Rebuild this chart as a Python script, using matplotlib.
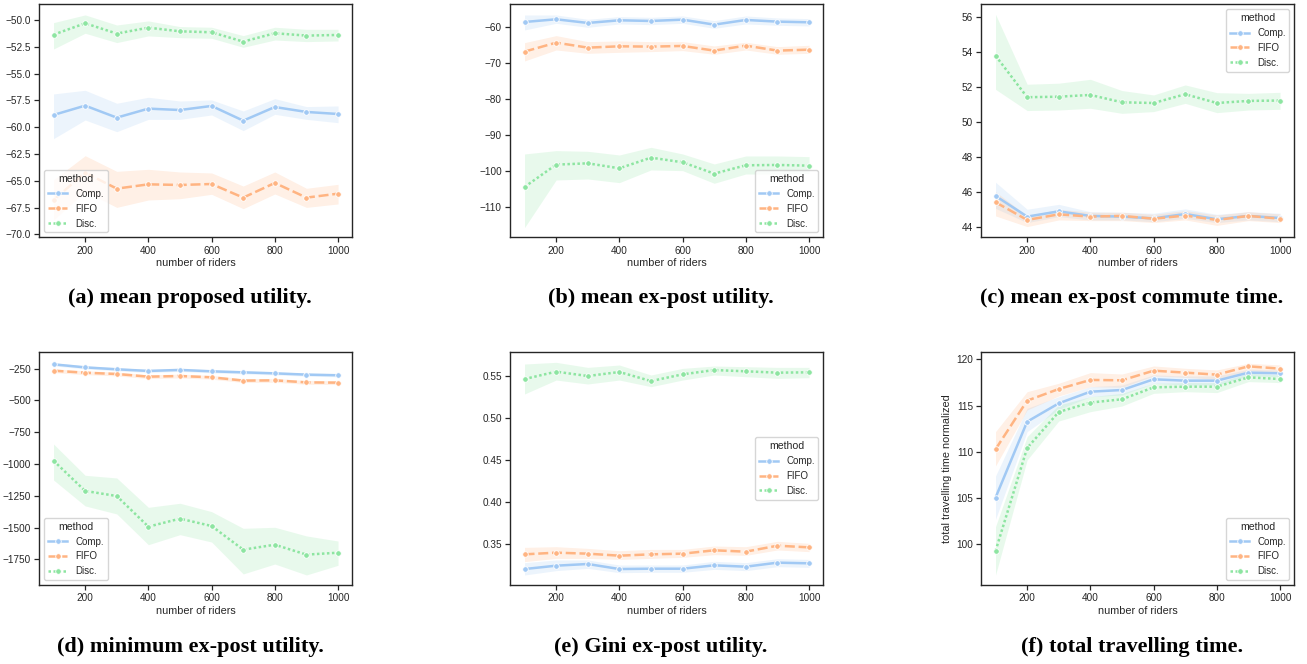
import matplotlib
matplotlib.use('Agg')
import matplotlib.pyplot as plt
from matplotlib.lines import Line2D

# ---------------- data ----------------
riders = [100, 200, 300, 400, 500, 600, 700, 800, 900, 1000]
methods = ['Comp.', 'FIFO', 'Disc.']

# (a) mean proposed utility
a_comp = [-58.86, -57.99, -59.11, -58.27, -58.40, -58.02, -59.39, -58.12, -58.58, -58.77]
a_comp_hi = [-56.90, -56.56, -57.77, -57.21, -57.56, -57.46, -58.49, -57.34, -58.08, -58.02]
a_comp_lo = [-61.07, -59.33, -60.42, -59.27, -59.27, -58.86, -60.32, -58.80, -59.27, -59.58]
a_fifo = [-66.79, -64.24, -65.73, -65.33, -65.39, -65.30, -66.57, -65.20, -66.57, -66.20]
a_fifo_hi = [-64.90, -62.66, -64.12, -63.93, -64.18, -64.27, -65.49, -64.18, -65.70, -65.33]
a_fifo_lo = [-68.66, -66.01, -67.48, -66.79, -66.67, -66.26, -67.60, -66.23, -67.48, -67.16]
a_disc = [-51.37, -50.31, -51.27, -50.72, -51.06, -51.15, -52.02, -51.24, -51.46, -51.40]
a_disc_hi = [-50.25, -49.53, -50.47, -50.09, -50.62, -50.68, -51.46, -50.68, -50.87, -50.87]
a_disc_lo = [-52.71, -51.24, -52.11, -51.49, -51.65, -51.71, -52.55, -51.87, -52.02, -51.96]

# (b) mean ex-post utility
b_comp = [-58.52, -57.77, -58.79, -58.05, -58.24, -57.87, -59.26, -57.96, -58.42, -58.61]
b_comp_hi = [-56.57, -56.57, -57.77, -57.03, -57.22, -56.85, -58.14, -56.85, -57.40, -57.59]
b_comp_lo = [-60.74, -58.89, -60.00, -59.07, -59.26, -58.89, -60.28, -59.07, -59.44, -59.63]
b_fifo = [-66.77, -64.27, -65.66, -65.29, -65.38, -65.19, -66.49, -65.10, -66.49, -66.22]
b_fifo_hi = [-64.27, -62.32, -63.99, -63.80, -63.99, -63.99, -65.19, -64.17, -65.38, -65.01]
b_fifo_lo = [-69.37, -66.31, -67.24, -66.96, -66.77, -66.49, -67.51, -66.31, -67.51, -67.24]
b_disc = [-104.43, -98.22, -97.85, -99.24, -96.27, -97.57, -100.72, -98.40, -98.31, -98.50]
b_disc_hi = [-95.25, -94.32, -94.51, -95.53, -93.40, -95.25, -98.03, -95.81, -95.81, -95.99]
b_disc_lo = [-115.75, -102.49, -102.21, -103.23, -99.70, -99.89, -103.41, -100.82, -100.82, -100.63]

# (c) mean ex-post commute time
c_comp = [45.79, 44.61, 44.91, 44.65, 44.61, 44.51, 44.76, 44.46, 44.65, 44.53]
c_comp_hi = [46.57, 45.03, 45.31, 44.89, 44.86, 44.80, 45.05, 44.74, 44.89, 44.80]
c_comp_lo = [45.08, 44.27, 44.61, 44.42, 44.42, 44.32, 44.51, 44.27, 44.42, 44.32]
c_fifo = [45.43, 44.42, 44.74, 44.61, 44.65, 44.49, 44.67, 44.42, 44.65, 44.49]
c_fifo_hi = [46.03, 44.65, 45.03, 44.86, 44.86, 44.74, 44.95, 44.70, 44.89, 44.76]
c_fifo_lo = [44.65, 44.04, 44.42, 44.38, 44.38, 44.27, 44.42, 44.11, 44.38, 44.27]
c_disc = [53.79, 51.42, 51.45, 51.55, 51.13, 51.09, 51.59, 51.09, 51.21, 51.23]
c_disc_hi = [56.15, 52.16, 52.22, 52.44, 51.80, 51.55, 52.12, 51.68, 51.64, 51.70]
c_disc_lo = [51.87, 50.66, 50.69, 50.79, 50.50, 50.60, 51.07, 50.54, 50.69, 50.73]

# (d) minimum ex-post utility
d_comp = [-216, -240, -255, -268, -260, -271, -279, -287, -297, -302]
d_comp_hi = [-204, -228, -243, -256, -248, -259, -267, -275, -285, -290]
d_comp_lo = [-228, -252, -267, -280, -272, -283, -291, -299, -309, -314]
d_fifo = [-266, -282, -292, -313, -308, -318, -344, -342, -358, -360]
d_fifo_hi = [-251, -267, -277, -298, -293, -303, -329, -327, -343, -345]
d_fifo_lo = [-281, -297, -307, -328, -323, -333, -359, -357, -373, -375]
d_disc = [-974, -1212, -1252, -1493, -1430, -1488, -1674, -1635, -1713, -1698]
d_disc_hi = [-843, -1089, -1110, -1341, -1309, -1375, -1506, -1498, -1566, -1606]
d_disc_lo = [-1126, -1330, -1393, -1635, -1556, -1614, -1865, -1787, -1873, -1797]

# (e) Gini ex-post utility
e_comp = [0.3202, 0.3242, 0.3262, 0.3202, 0.3206, 0.3206, 0.3246, 0.3230, 0.3278, 0.3270]
e_comp_hi = [0.3278, 0.3310, 0.3310, 0.3250, 0.3250, 0.3250, 0.3294, 0.3278, 0.3325, 0.3317]
e_comp_lo = [0.3131, 0.3183, 0.3210, 0.3159, 0.3163, 0.3163, 0.3198, 0.3183, 0.3230, 0.3222]
e_fifo = [0.3377, 0.3397, 0.3385, 0.3361, 0.3377, 0.3385, 0.3425, 0.3409, 0.3480, 0.3460]
e_fifo_hi = [0.3460, 0.3468, 0.3448, 0.3420, 0.3436, 0.3436, 0.3476, 0.3468, 0.3532, 0.3508]
e_fifo_lo = [0.3290, 0.3329, 0.3329, 0.3317, 0.3329, 0.3341, 0.3373, 0.3365, 0.3429, 0.3409]
e_disc = [0.5464, 0.5552, 0.5500, 0.5548, 0.5440, 0.5520, 0.5571, 0.5556, 0.5540, 0.5544]
e_disc_hi = [0.5643, 0.5663, 0.5603, 0.5631, 0.5512, 0.5591, 0.5619, 0.5611, 0.5603, 0.5603]
e_disc_lo = [0.5286, 0.5452, 0.5405, 0.5452, 0.5373, 0.5452, 0.5512, 0.5492, 0.5472, 0.5480]

# (f) total travelling time normalized
f_comp = [105.04, 113.26, 115.24, 116.50, 116.68, 117.84, 117.69, 117.69, 118.56, 118.49]
f_comp_hi = [107.39, 114.70, 115.96, 117.04, 117.21, 118.31, 118.20, 118.20, 118.92, 118.85]
f_comp_lo = [102.70, 112.18, 114.59, 115.96, 116.14, 117.41, 117.22, 117.22, 118.20, 118.13]
f_fifo = [110.27, 115.53, 116.79, 117.77, 117.73, 118.77, 118.56, 118.34, 119.24, 118.99]
f_fifo_hi = [112.18, 116.50, 117.41, 118.56, 118.41, 119.28, 119.03, 118.85, 119.57, 119.39]
f_fifo_lo = [108.47, 114.52, 116.04, 117.04, 116.97, 118.20, 118.05, 117.84, 118.77, 118.56]
f_disc = [99.28, 110.41, 114.31, 115.32, 115.68, 116.97, 117.04, 117.04, 118.05, 117.87]
f_disc_hi = [101.91, 111.64, 115.06, 115.96, 116.32, 117.41, 117.48, 117.48, 118.49, 118.31]
f_disc_lo = [96.68, 109.12, 113.33, 114.34, 114.95, 116.32, 116.50, 116.40, 117.59, 117.48]

captions = ['(a) mean proposed utility.', '(b) mean ex-post utility.',
            '(c) mean ex-post commute time.', '(d) minimum ex-post utility.',
            '(e) Gini ex-post utility.', '(f) total travelling time.']

# ---------------- style ----------------
colors = ['#a1c9f4', '#ffb482', '#8de5a1']
dashes = [None, (4, 1.5), (1, 1)]
plt.rcParams['font.family'] = ['Liberation Sans', 'DejaVu Sans']
TXT = '#262626'
LW = 1.8
MS = 4.0

W, H = 1307, 664
fig = plt.figure(figsize=(W / 100, H / 100), dpi=100)

col_left = [39.3, 510.3, 981.3]
ax_w = 313.0
row_top = [4.3, 352.0]
ax_h = 233.0

panels = [
    dict(series=[(a_comp, a_comp_lo, a_comp_hi), (a_fifo, a_fifo_lo, a_fifo_hi), (a_disc, a_disc_lo, a_disc_hi)],
         ylim=(-70.27, -48.54), yticks=[-70, -67.5, -65, -62.5, -60, -57.5, -55, -52.5, -50],
         fmt='{:.1f}', loc='lower left', ylabel=None),
    dict(series=[(b_comp, b_comp_lo, b_comp_hi), (b_fifo, b_fifo_lo, b_fifo_hi), (b_disc, b_disc_lo, b_disc_hi)],
         ylim=(-118.44, -53.6), yticks=[-110, -100, -90, -80, -70, -60],
         fmt='{:.0f}', loc='lower right', ylabel=None),
    dict(series=[(c_comp, c_comp_lo, c_comp_hi), (c_fifo, c_fifo_lo, c_fifo_hi), (c_disc, c_disc_lo, c_disc_hi)],
         ylim=(43.43, 56.72), yticks=[44, 46, 48, 50, 52, 54, 56],
         fmt='{:.0f}', loc='upper right', ylabel=None),
    dict(series=[(d_comp, d_comp_lo, d_comp_hi), (d_fifo, d_fifo_lo, d_fifo_hi), (d_disc, d_disc_lo, d_disc_hi)],
         ylim=(-1952, -119), yticks=[-1750, -1500, -1250, -1000, -750, -500, -250],
         fmt='{:.0f}', loc='lower left', ylabel=None),
    dict(series=[(e_comp, e_comp_lo, e_comp_hi), (e_fifo, e_fifo_lo, e_fifo_hi), (e_disc, e_disc_lo, e_disc_hi)],
         ylim=(0.3012, 0.5786), yticks=[0.35, 0.40, 0.45, 0.50, 0.55],
         fmt='{:.2f}', loc='center right', ylabel=None),
    dict(series=[(f_comp, f_comp_lo, f_comp_hi), (f_fifo, f_fifo_lo, f_fifo_hi), (f_disc, f_disc_lo, f_disc_hi)],
         ylim=(95.6, 120.79), yticks=[100, 105, 110, 115, 120],
         fmt='{:.0f}', loc='lower right', ylabel='total travelling time normalized'),
]

for i, p in enumerate(panels):
    r, c = divmod(i, 3)
    left = col_left[c] / W
    bottom = 1 - (row_top[r] + ax_h) / H
    ax = fig.add_axes([left, bottom, ax_w / W, ax_h / H])
    handles = []
    for k, (mean, lo, hi) in enumerate(p['series']):
        ax.fill_between(riders, lo, hi, color=colors[k], alpha=0.2, linewidth=0)
        kw = dict(color=colors[k], lw=LW, marker='o', ms=MS, mec='white', mew=0.6)
        ln, = ax.plot(riders, mean, **kw)
        if dashes[k] is not None:
            ln.set_dashes(dashes[k])
        h = Line2D([], [], **kw)
        if dashes[k] is not None:
            h.set_dashes(dashes[k])
        handles.append(h)
    ax.set_xlim(55, 1045)
    ax.set_ylim(*p['ylim'])
    ax.set_xticks([200, 400, 600, 800, 1000])
    ax.set_yticks(p['yticks'])
    ax.set_yticklabels([p['fmt'].format(v).replace('-', '\u2212') for v in p['yticks']])
    ax.tick_params(axis='both', labelsize=7.2, colors=TXT, length=3.5, width=0.9, pad=2.5)
    for s in ax.spines.values():
        s.set_color(TXT)
        s.set_linewidth(1.0)
    ax.set_xlabel('number of riders', fontsize=7.8, color=TXT, labelpad=2)
    if p['ylabel']:
        ax.set_ylabel(p['ylabel'], fontsize=7.8, color=TXT, labelpad=3)
    leg = ax.legend(handles, methods, title='method', loc=p['loc'], fontsize=7.0,
                    title_fontsize=7.6, frameon=True, borderaxespad=0.5)
    leg.get_frame().set_edgecolor('#cccccc')
    for t in leg.get_texts():
        t.set_color(TXT)
    leg.get_title().set_color(TXT)

cap_x = [190, 661, 1132]
cap_y = [298, 647]
for i, cap in enumerate(captions):
    r, c = divmod(i, 3)
    fig.text(cap_x[c] / W, 1 - cap_y[r] / H, cap, ha='center', va='center',
             fontsize=16, fontweight='bold', family=['Liberation Serif', 'DejaVu Serif'], color='black')

fig.savefig('out.png', dpi=100)
